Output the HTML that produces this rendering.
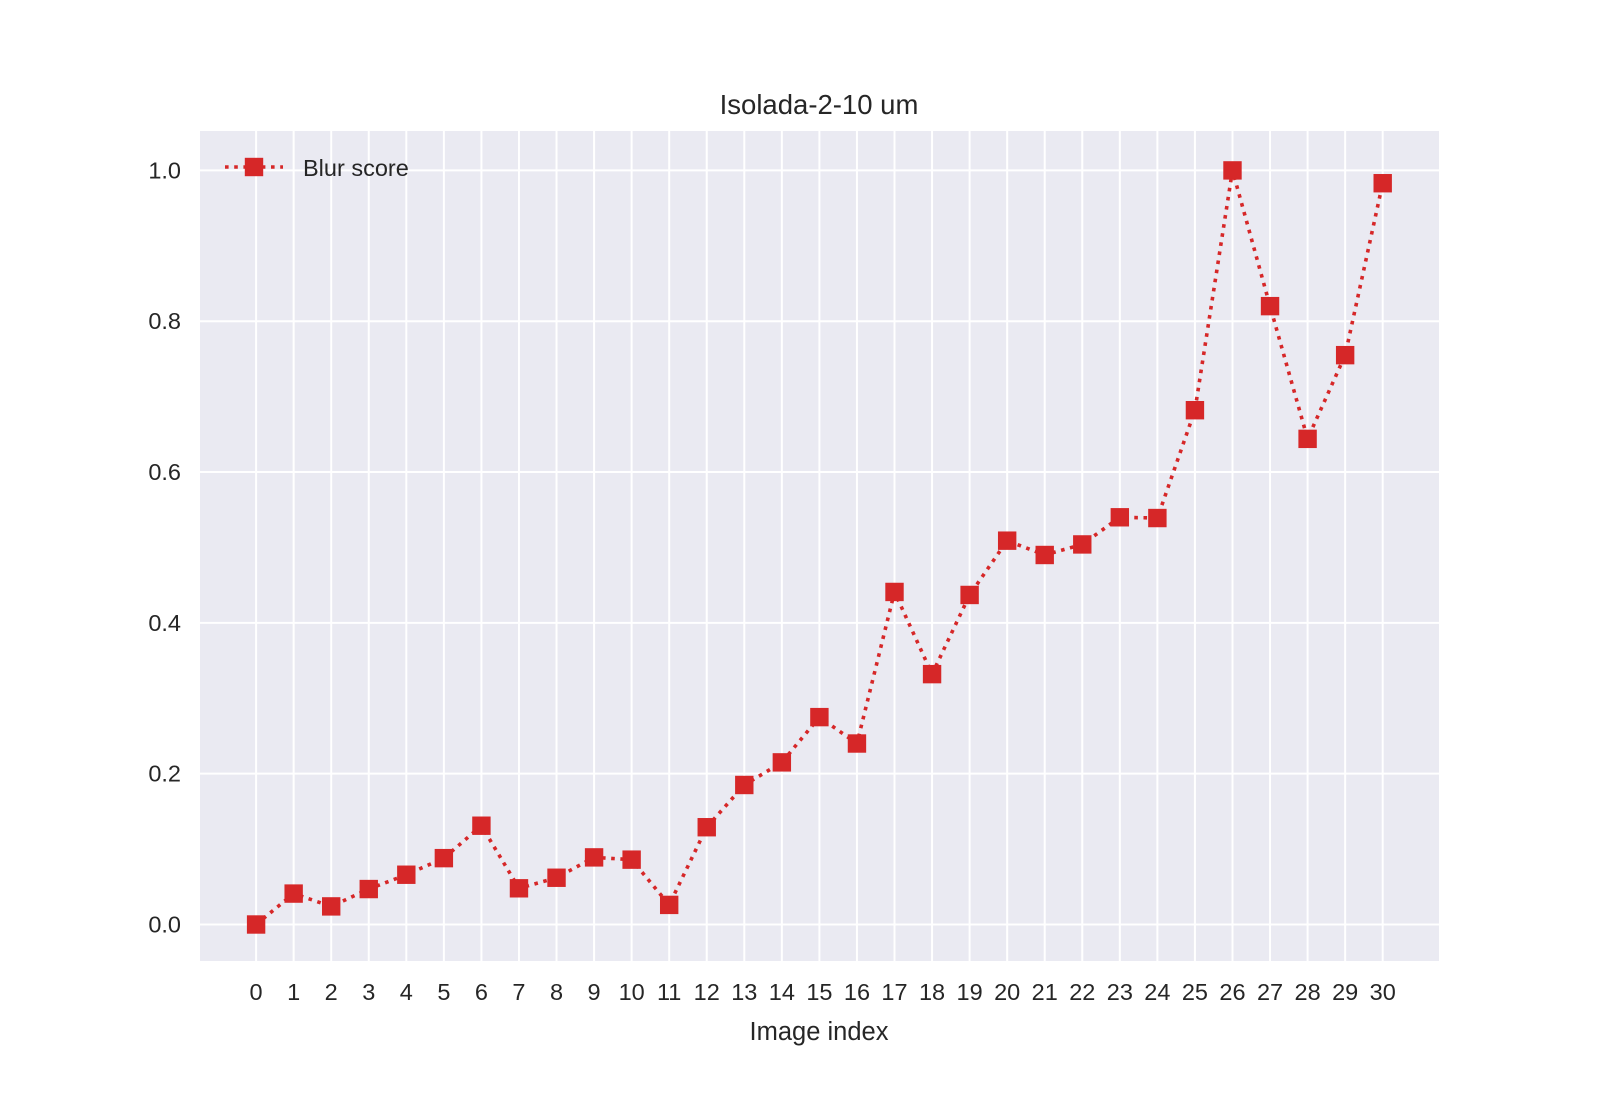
<!DOCTYPE html>
<html><head><meta charset="utf-8"><style>
body{margin:0;background:#fff;}
svg{display:block;font-family:"Liberation Sans","DejaVu Sans",sans-serif;}
</style></head><body>
<svg id="chart" width="1600" height="1100" viewBox="0 0 1600 1100">
<rect x="0" y="0" width="1600" height="1100" fill="#fff"/>
<rect x="200" y="131" width="1239" height="830" fill="#eaeaf2"/>
<g id="grid"></g>
<g id="ticks"></g>
<g id="series"></g>
<text x="819" y="114" font-size="27.5" fill="#262626" text-anchor="middle">Isolada-2-10 um</text>
<text x="819" y="1040" font-size="25.5" fill="#262626" text-anchor="middle">Image index</text>
<g>
<line x1="225" y1="167" x2="283" y2="167" stroke="#d62728" stroke-width="3.6" stroke-dasharray="3.6,5.6"/>
<rect x="244.8" y="157.8" width="18.4" height="18.4" fill="#d62728"/>
<text x="303" y="176" font-size="23.5" fill="#262626">Blur score</text>
</g>
</svg>
<script>
const categories=[0,1,2,3,4,5,6,7,8,9,10,11,12,13,14,15,16,17,18,19,20,21,22,23,24,25,26,27,28,29,30];
const blurScores=[0.0,0.041,0.024,0.047,0.066,0.088,0.131,0.048,0.062,0.089,0.086,0.026,0.129,0.185,0.215,0.275,0.240,0.441,0.332,0.437,0.509,0.490,0.504,0.540,0.539,0.682,1.0,0.820,0.644,0.755,0.983];
const yTicks=[0.0,0.2,0.4,0.6,0.8,1.0];
const NS='http://www.w3.org/2000/svg';
function xs(i){return 256.1+(i-0)*(1382.7-256.1)/30;}
function ys(v){return 924.5-v*(924.5-170.4);}
function mk(tag,attrs,parent){const e=document.createElementNS(NS,tag);for(const k in attrs)e.setAttribute(k,attrs[k]);parent.appendChild(e);return e;}
const grid=document.getElementById('grid'),ticks=document.getElementById('ticks'),series=document.getElementById('series');
categories.forEach(c=>{
  const l=mk('line',{x1:xs(c),x2:xs(c),y1:131,y2:961,stroke:'#fff','stroke-width':2},grid);
  
  
  const t=mk('text',{x:xs(c),y:1000,'font-size':23.5,fill:'#262626','text-anchor':'middle'},ticks);
  t.textContent=c;
  
  
});
yTicks.forEach(v=>{
  const l=mk('line',{x1:200,x2:1439,y1:ys(v),y2:ys(v),stroke:'#fff','stroke-width':2},grid);
  
  
  const t=mk('text',{x:181,y:ys(v)+8,'font-size':23.5,fill:'#262626','text-anchor':'end'},ticks);
  t.textContent=v.toFixed(1);
  
  
});
const pts=blurScores.map((v,i)=>xs(categories[i])+','+ys(v)).join(' ');
const pl=mk('polyline',{points:pts,fill:'none',stroke:'#d62728','stroke-width':3.6,'stroke-dasharray':'3.6,5.6'},series);


blurScores.forEach((v,i)=>{
  const r=mk('rect',{x:xs(categories[i])-9.2,y:ys(v)-9.2,width:18.4,height:18.4,fill:'#d62728'},series);
  
  
});
</script>
</body></html>
